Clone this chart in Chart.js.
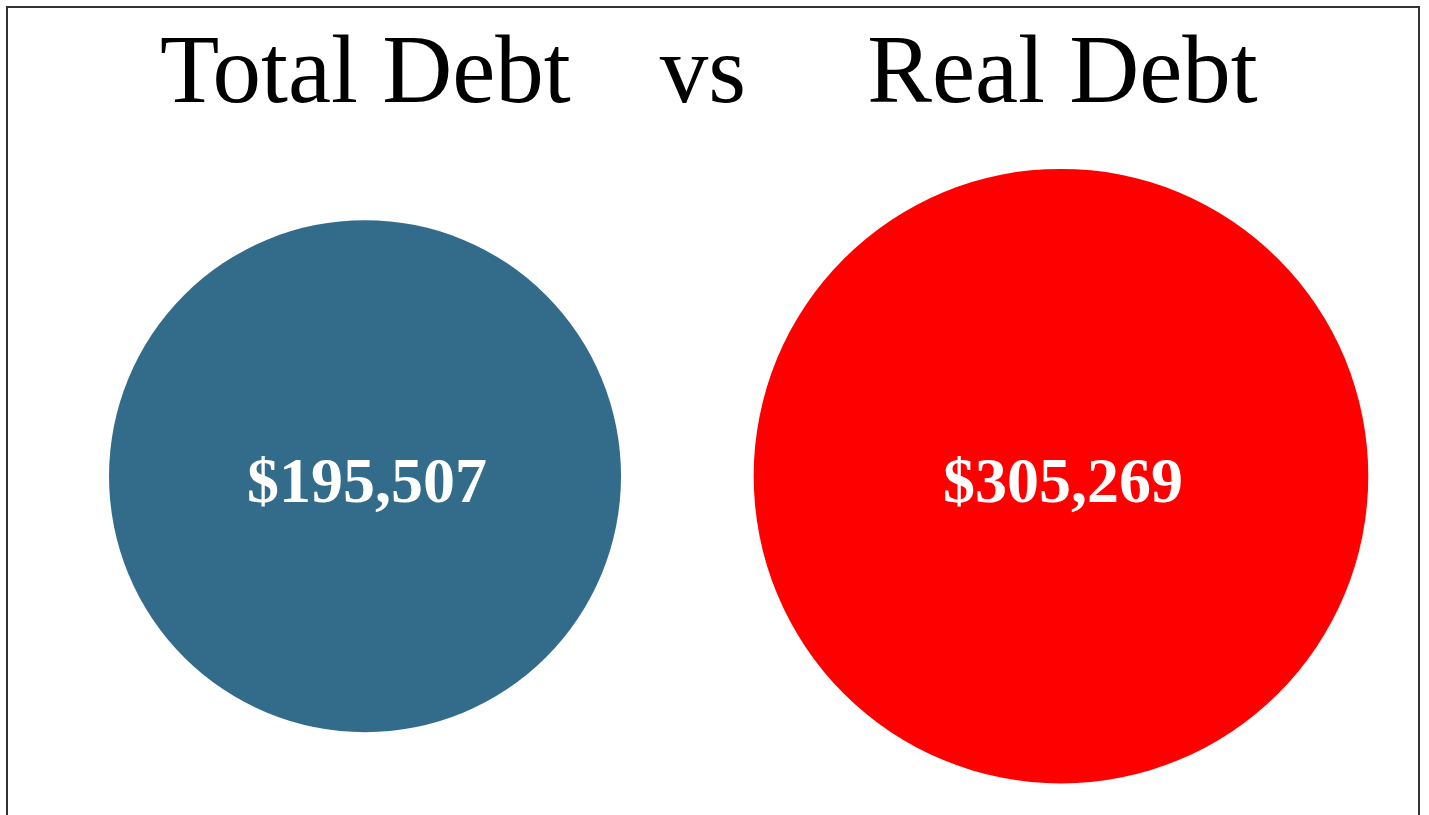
<!DOCTYPE html>
<html>
<head>
<meta charset="utf-8">
<script src="https://cdn.jsdelivr.net/npm/chart.js@4.4.1/dist/chart.umd.min.js"></script>
<style>
  html, body { margin: 0; padding: 0; background: #fff; overflow: hidden; }
  .chart-box {
    position: absolute;
    left: 6px;
    top: 6px;
    width: 1410px;
    height: 830px;
    border: 2px solid #333;
    background: #fff;
  }
  .chart-wrap { position: relative; width: 1410px; height: 807px; }
</style>
</head>
<body>
<div class="chart-box">
  <div class="chart-wrap">
    <canvas id="debtChart"></canvas>
  </div>
</div>
<script>
// data
const labels = ['Total Debt', 'Real Debt'];
const debtValues = [195507, 305269];
const bubbleColors = ['#336C8A', '#FF0000'];
// wide gaps around "vs" like the original heading
const chartTitle = 'Total Debt   \u200A\u200Avs     Real Debt\u200A';

const money = (v) => '$' + v.toLocaleString('en-US');

// bubble size grows with the value (base size for the smaller one)
const radiusFor = (v) => 256 * Math.pow(v / Math.min(...debtValues), 0.41);

// white value text in the middle of each bubble
const valueLabels = {
  id: 'valueLabels',
  afterDatasetsDraw(chart) {
    const ctx = chart.ctx;
    ctx.save();
    ctx.fillStyle = '#fff';
    ctx.font = 'bold 64px "Liberation Serif", "Times New Roman", serif';
    ctx.textAlign = 'center';
    ctx.textBaseline = 'alphabetic';
    chart.data.datasets.forEach((ds, i) => {
      const meta = chart.getDatasetMeta(i);
      meta.data.forEach((pt, j) => {
        ctx.fillText(money(ds.data[j].v), pt.x + 2, pt.y + 26);
      });
    });
    ctx.restore();
  }
};

const ctx = document.getElementById('debtChart').getContext('2d');
new Chart(ctx, {
  type: 'bubble',
  data: {
    datasets: labels.map((name, i) => ({
      label: name,
      data: [{ x: i, y: 0, r: radiusFor(debtValues[i]), v: debtValues[i] }],
      backgroundColor: bubbleColors[i],
      borderWidth: 0,
      hoverBorderWidth: 0
    }))
  },
  options: {
    responsive: true,
    maintainAspectRatio: false,
    animation: false,
    events: [],
    layout: { autoPadding: false, padding: 0 },
    plugins: {
      legend: { display: false },
      tooltip: { enabled: false },
      title: {
        display: true,
        text: chartTitle,
        color: '#000',
        font: { family: '"Liberation Serif", "Times New Roman", serif', size: 97, weight: 'normal', lineHeight: 1.2 },
        padding: { top: 10, bottom: 3 }
      }
    },
    scales: {
      x: { type: 'linear', display: false, min: -0.513, max: 1.513 },
      y: { type: 'linear', display: false, min: -1, max: 1 }
    }
  },
  plugins: [valueLabels]
});
</script>
</body>
</html>
